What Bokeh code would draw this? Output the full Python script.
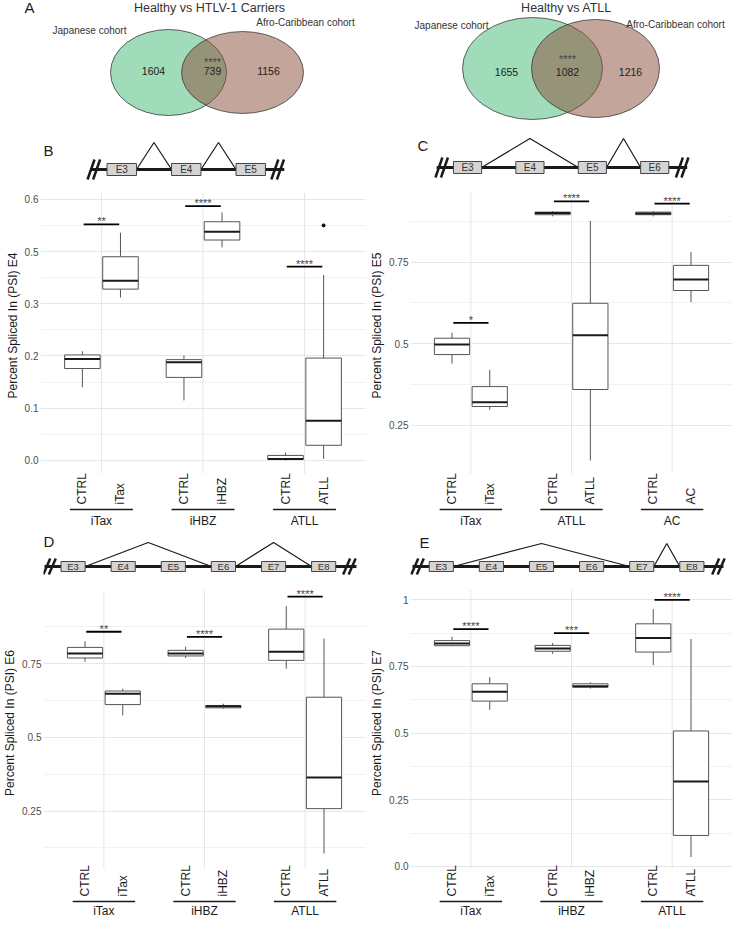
import math
from bokeh.plotting import figure
from bokeh.layouts import column, row
from bokeh.models import Range1d, FixedTicker, ColumnDataSource
from bokeh.core.properties import value
from bokeh.embed import file_html
from bokeh.resources import INLINE

FONT = "Liberation Sans"

# ---------------- data ----------------
venn_titles = ["Healthy vs HTLV-1 Carriers", "Healthy vs ATLL"]
venn_set_names = ["Japanese cohort", "Afro-Caribbean cohort"]
venn_carriers = [1604, 739, 1156]
venn_atll = [1655, 1082, 1216]
venn_sig = ["****", "****"]

ctrl_label = "CTRL"

# box stats: [lower whisker, Q1, median, Q3, upper whisker]
B_groups = ["iTax", "iHBZ", "ATLL"]
B_ctrl = [[0.140, 0.176, 0.194, 0.202, 0.209],
          [0.115, 0.159, 0.188, 0.193, 0.201],
          [0.000, 0.002, 0.003, 0.0096, 0.015]]
B_case = [[0.312, 0.328, 0.344, 0.390, 0.436],
          [0.408, 0.422, 0.438, 0.457, 0.475],
          [0.003, 0.029, 0.076, 0.196, 0.355]]
B_outliers = [[], [], [0.450]]
B_sig = ["**", "****", "****"]
B_sig_y = [0.452, 0.487, 0.371]
B_ticks = [0.0, 0.1, 0.2, 0.3, 0.4, 0.5]
B_tick_labels = ["0.0", "0.1", "0.2", "0.3", "0.5", "0.6"]
B_minor = [0.05, 0.15, 0.25, 0.35, 0.45]
B_exons = ["E3", "E4", "E5"]
B_junctions = [(0, 1), (1, 2)]

C_groups = ["iTax", "ATLL", "AC"]
C_ctrl = [[0.439, 0.467, 0.498, 0.517, 0.534],
          [0.890, 0.895, 0.900, 0.903, 0.906],
          [0.890, 0.895, 0.899, 0.903, 0.906]]
C_case = [[0.298, 0.308, 0.321, 0.369, 0.420],
          [0.143, 0.360, 0.526, 0.624, 0.876],
          [0.628, 0.663, 0.697, 0.740, 0.781]]
C_outliers = [[], [], []]
C_sig = ["*", "****", "****"]
C_sig_y = [0.564, 0.936, 0.929]
C_ticks = [0.25, 0.5, 0.75]
C_tick_labels = ["0.25", "0.5", "0.75"]
C_minor = [0.375, 0.625, 0.875]
C_exons = ["E3", "E4", "E5", "E6"]
C_junctions = [(0, 2), (2, 3)]

D_groups = ["iTax", "iHBZ", "ATLL"]
D_ctrl = [[0.756, 0.769, 0.784, 0.805, 0.826],
          [0.769, 0.776, 0.784, 0.795, 0.807],
          [0.733, 0.761, 0.790, 0.867, 0.945]]
D_case = [[0.574, 0.611, 0.648, 0.657, 0.665],
          [0.597, 0.600, 0.605, 0.608, 0.614],
          [0.106, 0.258, 0.364, 0.636, 0.835]]
D_outliers = [[], [], []]
D_sig = ["**", "****", "****"]
D_sig_y = [0.858, 0.841, 0.977]
D_ticks = [0.25, 0.5, 0.75]
D_tick_labels = ["0.25", "0.5", "0.75"]
D_minor = [0.125, 0.375, 0.625, 0.875]
D_exons = ["E3", "E4", "E5", "E6", "E7", "E8"]
D_junctions = [(0, 3), (3, 5)]

E_groups = ["iTax", "iHBZ", "ATLL"]
E_ctrl = [[0.826, 0.828, 0.836, 0.847, 0.861],
          [0.797, 0.807, 0.817, 0.829, 0.838],
          [0.755, 0.804, 0.857, 0.910, 0.965]]
E_case = [[0.587, 0.620, 0.655, 0.685, 0.710],
          [0.667, 0.672, 0.676, 0.685, 0.691],
          [0.035, 0.116, 0.318, 0.508, 0.853]]
E_outliers = [[], [], []]
E_sig = ["****", "***", "****"]
E_sig_y = [0.890, 0.875, 1.000]
E_ticks = [0.0, 0.25, 0.5, 0.75, 1.0]
E_tick_labels = ["0.0", "0.25", "0.5", "0.75", "1"]
E_minor = [0.125, 0.375, 0.625, 0.875]
E_exons = ["E3", "E4", "E5", "E6", "E7", "E8"]
E_junctions = [(0, 4), (4, 5)]

# ---------------- layout / style constants ----------------
X0, X1 = 0.4, 3.6
DODGE = 0.1875
BOXW = 0.35
BL, BR = 40, 2
WL, WR = 367, 367
BOXC = "#555555"
INK = "#1a1a1a"
GRID = "#e6e6e6"
GREEN = "#41b973"
BROWN = "#894b37"


def txt(f, x, y, t, size, color=INK, align="center", baseline="middle", **kw):
    f.text(x=x, y=y, text=t, text_font=value(FONT), text_font_size=size,
           text_color=color, text_align=align, text_baseline=baseline, **kw)


def venn_fig(W, H, title, counts, g, letter=None):
    v = figure(width=W, height=H, x_range=Range1d(0, W), y_range=Range1d(H, 0),
               toolbar_location=None, output_backend="svg", x_axis_location=None,
               y_axis_location=None, min_border=0)
    v.outline_line_color = None
    v.xgrid.visible = False
    v.ygrid.visible = False
    (gx, gy, gw, gh), (bx, by, bw, bh) = g["green"], g["brown"]
    v.ellipse(x=[gx], y=[gy], width=[gw], height=[gh], fill_color=GREEN, fill_alpha=0.5,
              line_color="#3c3c3c", line_width=0.8)
    v.ellipse(x=[bx], y=[by], width=[bw], height=[bh], fill_color=BROWN, fill_alpha=0.5,
              line_color="#3c3c3c", line_width=0.8)
    txt(v, [g["title"][0]], [g["title"][1]], [title], "12.5px", color="#333333")
    txt(v, [g["set1"][0]], [g["set1"][1]], [venn_set_names[0]], "10px", color="#333333")
    txt(v, [g["set2"][0]], [g["set2"][1]], [venn_set_names[1]], "10px", color="#333333")
    txt(v, [p[0] for p in g["counts"]], [p[1] for p in g["counts"]],
        [str(c) for c in counts], "10.5px", color="#222222")
    txt(v, [g["sig"][0]], [g["sig"][1]], [g["sigtext"]], "11px", color="#444444")
    if letter:
        txt(v, [letter[1]], [letter[2]], [letter[0]], "15px", align="left")
    return v


def panel(W, heights, exons, junctions, geo, letter, groups, ctrl, case, outliers, sig, sig_y,
          yr, ticks, labels, minor, ylabel, strip_pos):
    gh, ph, sh = heights
    H = gh + ph + sh
    ylo, yhi = yr
    k = (yhi - ylo) / ph
    ppu = (W - BL - BR) / (X1 - X0)
    p = figure(width=W, height=H, x_range=Range1d(X0, X1),
               y_range=Range1d(ylo - sh * k, yhi + gh * k), toolbar_location=None,
               output_backend="svg", x_axis_location=None,
               min_border_left=BL, min_border_right=BR, min_border_top=0, min_border_bottom=0)
    p.extra_y_ranges = {"px": Range1d(H, 0)}
    p.outline_line_color = None

    # ---- y axis & grid ----
    tk = FixedTicker(ticks=ticks, minor_ticks=minor)
    ax = p.yaxis[0]
    ax.ticker = tk
    ax.major_label_overrides = dict(zip(ticks, labels))
    ax.axis_line_color = None
    ax.major_tick_line_color = None
    ax.minor_tick_line_color = None
    ax.major_tick_out = 0
    ax.major_tick_in = 0
    ax.minor_tick_out = 0
    ax.minor_tick_in = 0
    ax.major_label_standoff = 2
    ax.major_label_text_font = FONT
    ax.major_label_text_font_size = "10px"
    ax.major_label_text_color = "#4d4d4d"
    ax.axis_label = ylabel
    ax.axis_label_text_font = FONT
    ax.axis_label_text_font_size = "12px"
    ax.axis_label_text_font_style = "normal"
    ax.axis_label_text_color = INK
    ax.axis_label_standoff = 2
    p.ygrid.ticker = tk
    p.ygrid.grid_line_color = GRID
    p.ygrid.minor_grid_line_color = "#f2f2f2"
    p.xgrid.visible = False

    gx = [i + 1 for i in range(len(groups))]
    n = len(gx)
    p.segment(x0=gx, y0=[ylo] * n, x1=gx, y1=[yhi] * n, line_color=GRID, line_width=1)

    # ---- boxes ----
    for stats, off in ((ctrl, -DODGE), (case, DODGE)):
        xs = [g + off for g in gx]
        src = ColumnDataSource(dict(
            x=xs, l=[x - BOXW / 2 for x in xs], r=[x + BOXW / 2 for x in xs],
            wb=[s[0] for s in stats], q1=[s[1] for s in stats], med=[s[2] for s in stats],
            q3=[s[3] for s in stats], wt=[s[4] for s in stats]))
        p.segment(x0="x", y0="q3", x1="x", y1="wt", source=src, line_color=BOXC, line_width=1)
        p.segment(x0="x", y0="wb", x1="x", y1="q1", source=src, line_color=BOXC, line_width=1)
        p.quad(left="l", right="r", bottom="q1", top="q3", source=src, fill_color="white",
               line_color=BOXC, line_width=1)
        p.segment(x0="l", y0="med", x1="r", y1="med", source=src, line_color=INK, line_width=2)
    ox, oy = [], []
    for g, outs in zip(gx, outliers):
        for o in outs:
            ox.append(g + DODGE); oy.append(o)
    if ox:
        p.scatter(x=ox, y=oy, size=3, color="black")
    p.segment(x0=[g - 0.175 for g in gx], y0=sig_y, x1=[g + 0.175 for g in gx], y1=sig_y,
              line_color="black", line_width=1.8)
    txt(p, gx, sig_y, sig, "11px", color="#444444", y_offset=-3)

    # ---- gene structure (pixel y) ----
    ne = len(exons)
    sft = geo.get("shift", 0.0)
    cx = [geo["c0"] + sft + i * geo["step"] for i in range(ne)]
    ly, ew, eh = geo["ly"], geo["ew"], geo["eh"]
    p.segment(x0=[geo["lx0"] + sft], y0=[ly], x1=[geo["lx1"] + sft], y1=[ly],
              line_color=INK, line_width=3, y_range_name="px")
    sx0, sy0, sx1, sy1 = [], [], [], []
    for s in geo["slashes"]:
        for kk in (-2.8, 2.8):
            sx0.append(s + sft + (kk - 3.5) / ppu); sy0.append(ly + geo["sh"])
            sx1.append(s + sft + (kk + 3.5) / ppu); sy1.append(ly - geo["sh"])
    p.segment(x0=sx0, y0=sy0, x1=sx1, y1=sy1, line_color=INK, line_width=2.5, y_range_name="px")
    jx, jy = [], []
    for a, b in junctions:
        xa, xb = cx[a] + ew / 2, cx[b] - ew / 2
        jx.append([xa, (xa + xb) / 2, xb]); jy.append([ly, geo["apex"], ly])
    p.multi_line(xs=jx, ys=jy, line_color=INK, line_width=1.2, y_range_name="px")
    p.rect(x=cx, y=[ly] * ne, width=ew, height=eh, fill_color="#d4d4d4",
           line_color="#444444", line_width=1, y_range_name="px")
    txt(p, cx, [ly] * ne, exons, geo["fs"], color="#333333", y_range_name="px")
    txt(p, [geo["letter"][0]], [geo["letter"][1]], [letter], "15px", align="left",
        y_range_name="px")

    # ---- category labels strip (pixel y) ----
    lab_bottom, uline, grp_y = strip_pos
    base = gh + ph
    xs, tt = [], []
    for g, t in zip(gx, groups):
        xs += [g - DODGE, g + DODGE]; tt += [ctrl_label, t]
    txt(p, xs, [base + lab_bottom] * len(xs), tt, "12px", align="left", angle=math.pi / 2,
        y_range_name="px")
    p.segment(x0=[g - 0.31 for g in gx], y0=[base + uline] * n, x1=[g + 0.31 for g in gx],
              y1=[base + uline] * n, line_color=INK, line_width=1.6, y_range_name="px")
    txt(p, gx, [base + grp_y] * n, groups, "12px", y_range_name="px")
    return p


# ---------------- Venn (panel A) ----------------
HA = 122
venn_left_geo = dict(green=(168, 72, 116, 86), brown=(242, 72, 122, 82), title=(209, 7),
                     set1=(89, 30), set2=(305, 22), counts=[(153, 70), (212, 70), (268, 70)],
                     sig=(212, 61), sigtext=venn_sig[0])
venn_right_geo = dict(green=(165, 68, 140, 102), brown=(228, 68, 128, 98), title=(199, 7),
                      set1=(84, 25), set2=(308, 24), counts=[(139, 71), (200, 71), (263, 71)],
                      sig=(200, 58), sigtext=venn_sig[1])
vA1 = venn_fig(WL, HA, venn_titles[0], venn_carriers, venn_left_geo, letter=("A", 24, 7))
vA2 = venn_fig(WR, HA, venn_titles[1], venn_atll, venn_right_geo)

# ---------------- box panels ----------------
B_geo = dict(c0=1.20, step=0.635, ew=0.29, eh=12, lx0=0.89, lx1=2.80, ly=47, apex=20,
             slashes=[0.925, 2.735], sh=10, fs="10px", letter=(0.43, 28))
C_geo = dict(c0=0.967, step=0.62, ew=0.28, eh=12, lx0=0.66, lx1=3.15, ly=45, apex=16,
             slashes=[0.71, 3.10], sh=10, fs="10px", letter=(0.47, 23))
D_geo = dict(c0=0.544, step=0.498, ew=0.24, eh=10, lx0=0.26, lx1=3.36, ly=38, apex=14,
             slashes=[0.31, 3.29], sh=8, fs="9.5px", letter=(0.40, 13), shift=0.15)
E_geo = dict(c0=0.646, step=0.498, ew=0.24, eh=10, lx0=0.36, lx1=3.45, ly=38, apex=15,
             slashes=[0.41, 3.40], sh=8, fs="9.5px", letter=(0.49, 14), shift=0.06)

H_BC = (70, 281, 55)
H_DE = (62, 278, 49)

pB = panel(WL, H_BC, B_exons, B_junctions, B_geo, "B", B_groups, B_ctrl, B_case, B_outliers,
           B_sig, B_sig_y, (-0.025, 0.513), B_ticks, B_tick_labels, B_minor,
           "Percent Spliced In (PSI) E4", (31, 36, 47))
pC = panel(WR, H_BC, C_exons, C_junctions, C_geo, "C", C_groups, C_ctrl, C_case, C_outliers,
           C_sig, C_sig_y, (0.103, 0.963), C_ticks, C_tick_labels, C_minor,
           "Percent Spliced In (PSI) E5", (31, 36, 47))
pD = panel(WL, H_DE, D_exons, D_junctions, D_geo, "D", D_groups, D_ctrl, D_case, D_outliers,
           D_sig, D_sig_y, (0.055, 0.998), D_ticks, D_tick_labels, D_minor,
           "Percent Spliced In (PSI) E6", (28, 33, 42))
pE = panel(WR, H_DE, E_exons, E_junctions, E_geo, "E", E_groups, E_ctrl, E_case, E_outliers,
           E_sig, E_sig_y, (-0.008, 1.035), E_ticks, E_tick_labels, E_minor,
           "Percent Spliced In (PSI) E7", (28, 33, 42))

layout = column(row(vA1, vA2), row(pB, pC), row(pD, pE))
open("out.html", "w").write(file_html(layout, INLINE))
